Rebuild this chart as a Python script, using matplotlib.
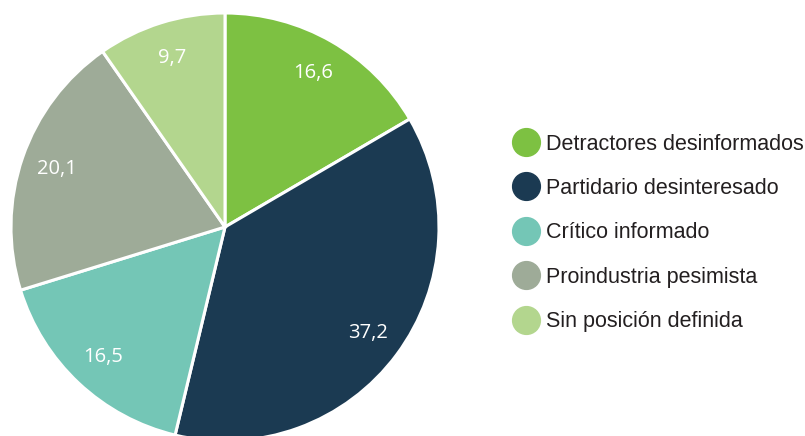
import matplotlib
matplotlib.use("Agg")
import matplotlib.pyplot as plt
from matplotlib.lines import Line2D
import numpy as np

categories = ["Detractores desinformados", "Partidario desinteresado", "Crítico informado",
              "Proindustria pesimista", "Sin posición definida"]
values = [16.6, 37.2, 16.5, 20.1, 9.7]
labels = ["16,6", "37,2", "16,5", "20,1", "9,7"]
colors = ["#7dc142", "#1b3a52", "#74c6b6", "#9eab98", "#b3d68e"]

W, H = 805, 436
fig = plt.figure(figsize=(W / 100, H / 100), dpi=100)
cx, cy, r = 225, 227, 214
ax = fig.add_axes([(cx - r) / W, (H - cy - r) / H, 2 * r / W, 2 * r / H])
wedges, _ = ax.pie(values, colors=colors, startangle=90, counterclock=False,
                   wedgeprops=dict(edgecolor="white", linewidth=2.2))
ax.set_xlim(-1, 1)
ax.set_ylim(-1, 1)
ax.set_aspect("equal")
ax.axis("off")
for w, lab in zip(wedges, labels):
    ang = np.deg2rad((w.theta1 + w.theta2) / 2)
    d = 0.83
    ax.text(d * np.cos(ang), d * np.sin(ang), lab, color="white", fontsize=14.5,
            ha="center", va="center", family="Open Sans")

handles = [Line2D([0], [0], marker="o", linestyle="none", markersize=20,
                  markerfacecolor=c, markeredgecolor=c) for c in colors]
leg = fig.legend(handles, categories, loc="center left", bbox_to_anchor=(500 / W, 1 - 233 / H),
                 frameon=False, prop=dict(family="Liberation Sans", size=15.5),
                 handletextpad=0.25, labelspacing=1.09, borderpad=0, handlelength=1.4)
for t in leg.get_texts():
    t.set_color("#231f20")
fig.savefig("out.png", dpi=100)
